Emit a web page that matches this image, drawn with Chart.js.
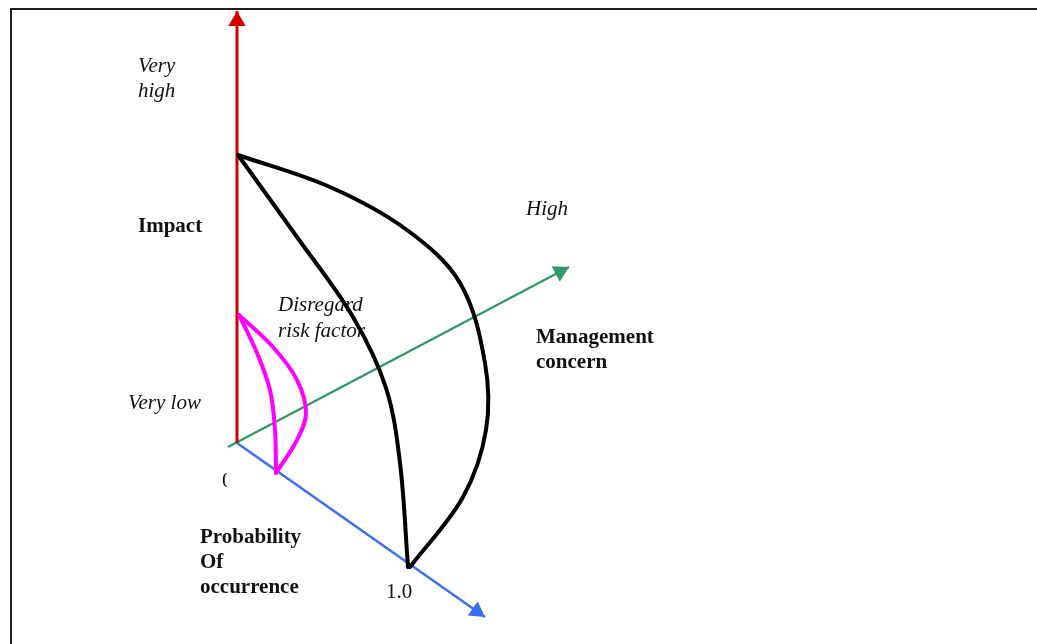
<!DOCTYPE html>
<html>
<head>
<meta charset="utf-8">
<title>Risk assessment diagram</title>
<script src="https://cdn.jsdelivr.net/npm/chart.js@4.4.1/dist/chart.umd.min.js"></script>
<style>
  html, body { margin: 0; padding: 0; background: #fff; overflow: hidden; }
  #frame {
    position: absolute; left: 10px; top: 8px; width: 1100px; height: 700px;
    border-top: 2px solid #1e1e1e; border-left: 2px solid #1e1e1e;
  }
  #chart { position: absolute; left: 0; top: 0; }
</style>
</head>
<body>
<div id="frame"></div>
<canvas id="chart" width="1037" height="644"></canvas>
<script>
// ── Diagram data (origin = where the three axes meet, y up) ──
const impactAxis = [{ x: 0, y: 0 }, { x: 0, y: 432 }];
const concernAxis = [{ x: -9, y: -4 }, { x: 332, y: 176 }];
const probabilityAxis = [{ x: 0, y: 0 }, { x: 248, y: -174 }];

// high-concern region, split in two branches so the ends stay sharp
const concernOuter = [
  { x: 1, y: 288 }, { x: 93, y: 256 }, { x: 170, y: 213 }, { x: 223, y: 160 },
  { x: 248, y: 80 }, { x: 249, y: 13 }, { x: 226, y: -54 }, { x: 173, y: -124 },
];
const concernInner = [
  { x: 1, y: 288 }, { x: 60, y: 206 }, { x: 116, y: 126 }, { x: 149, y: 55 },
  { x: 163, y: -20 }, { x: 171, y: -124 },
];

// disregard region
const disregardOuter = [
  { x: 2, y: 128 }, { x: 36, y: 96 }, { x: 60, y: 63 }, { x: 69, y: 30 },
  { x: 60, y: 3 }, { x: 39, y: -30 },
];
const disregardInner = [
  { x: 2, y: 128 }, { x: 20, y: 90 }, { x: 33, y: 53 }, { x: 38, y: 13 }, { x: 39, y: -30 },
];

// labels: text, anchor (left / baseline), style
const labels = [
  { text: 'Very', x: -99, y: 371, style: 'italic' },
  { text: 'high', x: -99, y: 346, style: 'italic' },
  { text: 'Impact', x: -99, y: 211, style: 'bold' },
  { text: 'High', x: 289, y: 228, style: 'italic' },
  { text: 'Disregard', x: 41, y: 132, style: 'italic' },
  { text: 'risk factor', x: 41, y: 106, style: 'italic' },
  { text: 'Management', x: 299, y: 100, style: 'bold' },
  { text: 'concern', x: 299, y: 75, style: 'bold' },
  { text: 'Very low', x: -109, y: 34, style: 'italic' },
  { text: '0', x: -15, y: -44, style: 'normal', clip: 5 },
  { text: 'Probability', x: -37, y: -100, style: 'bold' },
  { text: 'Of', x: -37, y: -125, style: 'bold' },
  { text: 'occurrence', x: -37, y: -150, style: 'bold' },
  { text: '1.0', x: 149, y: -155, style: 'normal' },
];

const RED = '#d40000';
const GREEN = '#339966';
const BLUE = '#3a6ff5';
const MAGENTA = '#ff00ff';
const ARROW_R = 10;

function curve(data, color, width) {
  return {
    data, showLine: true, borderColor: color, borderWidth: width,
    pointRadius: 0, tension: 0.35, fill: false,
    borderCapStyle: 'round', borderJoinStyle: 'round',
  };
}

function axisLine(data, color, width) {
  return { data, showLine: true, borderColor: color, borderWidth: width, pointRadius: 0, tension: 0 };
}

// arrowhead sits at the end of an axis, pointing along it
function arrowHead(axis, color) {
  const a = axis[0], b = axis[axis.length - 1];
  const dx = b.x - a.x, dy = b.y - a.y;
  const len = Math.hypot(dx, dy);
  return {
    data: [{ x: b.x - (dx / len) * ARROW_R, y: b.y - (dy / len) * ARROW_R }],
    showLine: false,
    pointStyle: 'triangle',
    pointRadius: ARROW_R,
    rotation: Math.atan2(dx, dy) * 180 / Math.PI,
    backgroundColor: color,
    borderColor: color,
    borderWidth: 0,
  };
}

// text goes under the curves, as in the original drawing
const labelPlugin = {
  id: 'labels',
  beforeDatasetsDraw(chart) {
    const { ctx, scales } = chart;
    ctx.save();
    ctx.fillStyle = '#111';
    ctx.textBaseline = 'alphabetic';
    labels.forEach((l) => {
      const px = scales.x.getPixelForValue(l.x);
      const py = scales.y.getPixelForValue(l.y);
      const weight = l.style === 'bold' ? 'bold ' : '';
      const italic = l.style === 'italic' ? 'italic ' : '';
      ctx.font = `${italic}${weight}21px "Liberation Serif", "Times New Roman", serif`;
      ctx.save();
      if (l.clip) {
        ctx.beginPath();
        ctx.rect(px, py - 30, l.clip, 40);
        ctx.clip();
      }
      ctx.fillText(l.text, px, py);
      ctx.restore();
    });
    ctx.restore();
  },
};

new Chart(document.getElementById('chart'), {
  type: 'scatter',
  data: {
    datasets: [
      curve(concernOuter, '#000', 4),
      curve(concernInner, '#000', 4),
      curve(disregardOuter, MAGENTA, 4),
      curve(disregardInner, MAGENTA, 4),
      arrowHead(impactAxis, RED),
      arrowHead(concernAxis, GREEN),
      arrowHead(probabilityAxis, BLUE),
      axisLine(impactAxis, RED, 3),
      axisLine(concernAxis, GREEN, 2.5),
      axisLine(probabilityAxis, BLUE, 2.5),
    ],
  },
  options: {
    responsive: false,
    animation: false,
    layout: { padding: 0, autoPadding: false },
    plugins: { legend: { display: false }, tooltip: { enabled: false } },
    scales: {
      x: { type: 'linear', min: -237, max: 800, display: false },
      y: { type: 'linear', min: -201, max: 443, display: false },
    },
  },
  plugins: [labelPlugin],
});
</script>
</body>
</html>
